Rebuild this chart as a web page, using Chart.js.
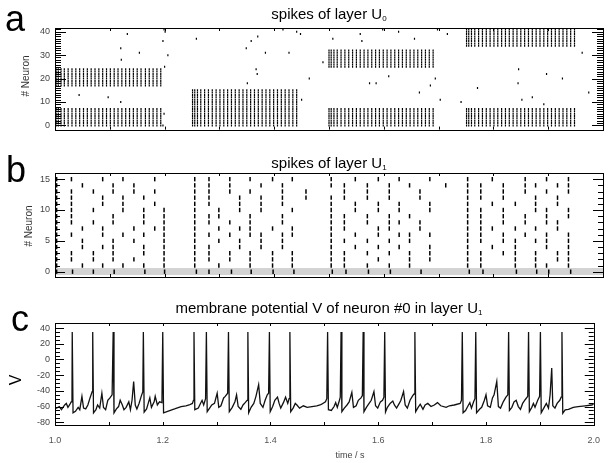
<!DOCTYPE html>
<html>
<head>
<meta charset="utf-8">
<script src="https://cdn.jsdelivr.net/npm/chart.js@4.4.1/dist/chart.umd.min.js"></script>
<style>
  body { margin: 0; background: #fff; font-family: "Liberation Sans", Arial, sans-serif; }
  #fig { position: relative; width: 610px; height: 463px; overflow: hidden; }
  canvas { position: absolute; left: 0; }
  .lbl { position: absolute; line-height: 1; white-space: nowrap; color: #000; }
  .ttl { left: 55px; width: 548px; text-align: center; font-size: 15px; }
  .ttl sub { font-size: 8px; vertical-align: -2px; }
  .letter { font-size: 36px; }
  .rot { transform: translate(-50%, -50%) rotate(-90deg); }
</style>
</head>
<body>
<div id="fig">
  <canvas id="chartA" width="610" height="140" style="top:0;width:610px;height:140px"></canvas>
  <canvas id="chartB" width="610" height="150" style="top:140px;width:610px;height:150px"></canvas>
  <canvas id="chartC" width="610" height="173" style="top:290px;width:610px;height:173px"></canvas>

  <div class="lbl letter" style="left:5px;top:1px">a</div>
  <div class="lbl letter" style="left:6px;top:152px">b</div>
  <div class="lbl letter" style="left:11px;top:301px">c</div>

  <div class="lbl ttl" style="top:6px">spikes of layer U<sub>0</sub></div>
  <div class="lbl ttl" style="top:155px">spikes of layer U<sub>1</sub></div>
  <div class="lbl ttl" style="top:300px">membrane potential V of neuron #0 in layer U<sub>1</sub></div>

  <div class="lbl rot" style="left:26px;top:76px;font-size:10px;color:#333"># Neuron</div>
  <div class="lbl rot" style="left:29px;top:226px;font-size:10px;color:#333"># Neuron</div>
  <div class="lbl rot" style="left:16px;top:380px;font-size:16px">V</div>
  <div class="lbl" style="left:350px;top:455px;transform:translate(-50%,-50%);font-size:9px;color:#444">time / s</div>
</div>

<script>
// time axis shared by all panels
const timeRange = [1.0, 2.0];
const timeTicks = [1.0, 1.2, 1.4, 1.6, 1.8, 2.0];

// ---- panel a: layer U0 ----
const u0Ticks = [0, 10, 20, 30, 40];
const u0GroupA = [0, 1, 2, 3, 4, 5, 6, 7];
const u0GroupB = [8, 9, 10, 11, 12, 13, 14, 15];
const u0GroupC = [17, 18, 19, 20, 21, 22, 23, 24];
const u0GroupD = [25, 26, 27, 28, 29, 30, 31, 32];
const u0GroupE = [34, 35, 36, 37, 38, 39, 40, 41];

// spike columns of each stimulus block
const u0Block1 = [1.002, 1.006, 1.011, 1.017, 1.024, 1.031, 1.038, 1.045, 1.052, 1.059, 1.066, 1.073, 1.080, 1.087, 1.094, 1.101, 1.108, 1.115, 1.122, 1.129, 1.136, 1.143, 1.150, 1.157, 1.165, 1.172, 1.179, 1.186, 1.193];
const u0Block2 = [1.251, 1.255, 1.260, 1.266, 1.273, 1.280, 1.287, 1.294, 1.301, 1.308, 1.315, 1.322, 1.329, 1.336, 1.343, 1.350, 1.357, 1.364, 1.371, 1.378, 1.385, 1.392, 1.399, 1.406, 1.413, 1.420, 1.427, 1.434, 1.441];
const u0Block3 = [1.500, 1.504, 1.509, 1.515, 1.522, 1.529, 1.536, 1.543, 1.550, 1.557, 1.564, 1.571, 1.578, 1.585, 1.592, 1.599, 1.606, 1.613, 1.620, 1.627, 1.634, 1.641, 1.648, 1.655, 1.662, 1.669, 1.676, 1.683, 1.690];
const u0Block4 = [1.751, 1.755, 1.760, 1.766, 1.773, 1.780, 1.787, 1.794, 1.801, 1.808, 1.815, 1.822, 1.829, 1.836, 1.843, 1.850, 1.857, 1.864, 1.871, 1.878, 1.885, 1.892, 1.899, 1.906, 1.913, 1.920, 1.927, 1.934, 1.941, 1.948];

// background spikes [time, neuron]
const u0Background = [
  [1.044, 13], [1.097, 12], [1.120, 10], [1.121, 28], [1.120, 33], [1.132, 39], [1.154, 31],
  [1.197, 36], [1.199, 41], [1.201, 40], [1.206, 30], [1.200, 25], [1.199, 5], [1.197, 0],
  [1.258, 37], [1.349, 33], [1.351, 18], [1.358, 36], [1.367, 24], [1.369, 22], [1.370, 38],
  [1.384, 31], [1.416, 41], [1.427, 31], [1.441, 40], [1.448, 39], [1.450, 11], [1.464, 20],
  [1.489, 27], [1.507, 37], [1.557, 39], [1.560, 36], [1.574, 18], [1.586, 18], [1.598, 41],
  [1.609, 21], [1.627, 40], [1.656, 37], [1.665, 14], [1.685, 17], [1.694, 20], [1.698, 41],
  [1.703, 11], [1.716, 39], [1.741, 10], [1.771, 16], [1.845, 18], [1.846, 24], [1.852, 11],
  [1.871, 12], [1.892, 9], [1.897, 22], [1.926, 20], [1.962, 31], [1.974, 14]
];

// ---- panel b: layer U1, spike times per neuron (index = neuron) ----
const u1Ticks = [0, 5, 10, 15];
const u1Spikes = [
  [1.003, 1.032, 1.070, 1.108, 1.164, 1.200, 1.258, 1.281, 1.322, 1.358, 1.398, 1.436, 1.506, 1.531, 1.572, 1.612, 1.668, 1.756, 1.781, 1.842, 1.879, 1.901, 1.941],
  [1.003, 1.050, 1.087, 1.124, 1.162, 1.199, 1.255, 1.299, 1.356, 1.397, 1.433, 1.504, 1.528, 1.570, 1.610, 1.647, 1.753, 1.777, 1.840, 1.877, 1.897, 1.937],
  [1.003, 1.030, 1.070, 1.106, 1.144, 1.199, 1.255, 1.281, 1.319, 1.356, 1.397, 1.433, 1.504, 1.528, 1.590, 1.647, 1.684, 1.753, 1.777, 1.840, 1.877, 1.917, 1.937],
  [1.003, 1.030, 1.070, 1.106, 1.162, 1.199, 1.255, 1.281, 1.319, 1.356, 1.397, 1.433, 1.504, 1.528, 1.570, 1.610, 1.647, 1.684, 1.753, 1.777, 1.818, 1.840, 1.877, 1.917, 1.937],
  [1.003, 1.050, 1.087, 1.106, 1.162, 1.199, 1.255, 1.281, 1.337, 1.376, 1.415, 1.504, 1.548, 1.590, 1.628, 1.684, 1.753, 1.798, 1.840, 1.897, 1.937],
  [1.003, 1.050, 1.106, 1.144, 1.199, 1.255, 1.299, 1.337, 1.376, 1.415, 1.504, 1.528, 1.570, 1.610, 1.647, 1.753, 1.777, 1.818, 1.840, 1.877, 1.897, 1.937],
  [1.003, 1.030, 1.087, 1.124, 1.162, 1.199, 1.255, 1.281, 1.319, 1.356, 1.376, 1.415, 1.433, 1.504, 1.548, 1.590, 1.628, 1.647, 1.684, 1.753, 1.777, 1.818, 1.858, 1.897, 1.937],
  [1.003, 1.050, 1.087, 1.144, 1.182, 1.199, 1.255, 1.299, 1.337, 1.356, 1.397, 1.433, 1.504, 1.528, 1.590, 1.610, 1.666, 1.753, 1.777, 1.798, 1.840, 1.877, 1.917],
  [1.003, 1.030, 1.070, 1.106, 1.162, 1.199, 1.255, 1.281, 1.319, 1.356, 1.415, 1.504, 1.528, 1.570, 1.610, 1.628, 1.666, 1.753, 1.777, 1.818, 1.858, 1.897, 1.917],
  [1.003, 1.030, 1.106, 1.162, 1.199, 1.255, 1.281, 1.299, 1.356, 1.415, 1.504, 1.528, 1.570, 1.610, 1.647, 1.753, 1.777, 1.818, 1.858, 1.897, 1.937],
  [1.003, 1.030, 1.070, 1.124, 1.162, 1.199, 1.255, 1.299, 1.337, 1.376, 1.433, 1.504, 1.548, 1.590, 1.628, 1.684, 1.753, 1.777, 1.818, 1.877, 1.897, 1.937],
  [1.003, 1.030, 1.087, 1.124, 1.182, 1.255, 1.281, 1.337, 1.376, 1.415, 1.504, 1.548, 1.590, 1.628, 1.684, 1.753, 1.798, 1.840, 1.877, 1.917],
  [1.003, 1.030, 1.087, 1.124, 1.162, 1.255, 1.281, 1.337, 1.376, 1.415, 1.458, 1.504, 1.528, 1.570, 1.610, 1.666, 1.753, 1.777, 1.818, 1.877, 1.917],
  [1.003, 1.030, 1.070, 1.106, 1.144, 1.182, 1.255, 1.281, 1.319, 1.356, 1.415, 1.458, 1.528, 1.570, 1.610, 1.666, 1.753, 1.777, 1.818, 1.858, 1.897, 1.937],
  [1.003, 1.050, 1.106, 1.144, 1.255, 1.281, 1.319, 1.376, 1.415, 1.504, 1.528, 1.570, 1.610, 1.647, 1.713, 1.753, 1.777, 1.818, 1.858, 1.877, 1.917, 1.937],
  [1.003, 1.030, 1.087, 1.124, 1.182, 1.255, 1.281, 1.319, 1.356, 1.397, 1.433, 1.504, 1.548, 1.590, 1.628, 1.684, 1.753, 1.798, 1.858, 1.897, 1.937]
];

// ---- panel c: membrane potential of neuron #0 in U1, [time, V] ----
const vTicks = [-80, -60, -40, -20, 0, 20, 40];
const vTrace = [
  [1.000, -62], [1.003, -62], [1.008, -60], [1.012, -64], [1.018, -58], [1.021, -56], [1.024, -61], [1.027, -58], [1.030, -54], [1.0315, -50],
  [1.032, 35], [1.0335, -68], [1.038, -66], [1.043, -61], [1.046, -64], [1.050, -47], [1.053, -62], [1.057, -63], [1.061, -58], [1.065, -49], [1.069, -41],
  [1.070, 35], [1.0715, -68], [1.076, -64], [1.079, -58], [1.083, -62], [1.087, -43], [1.090, -61], [1.094, -64], [1.098, -52], [1.102, -49], [1.106, -45],
  [1.108, 35], [1.1095, -68], [1.114, -63], [1.118, -60], [1.121, -52], [1.125, -58], [1.128, -64], [1.132, -61], [1.137, -54], [1.140, -64], [1.143, -52],
  [1.146, -28], [1.149, -58], [1.152, -63], [1.156, -56], [1.160, -47], [1.163, -41],
  [1.164, 35], [1.1655, -67], [1.170, -63], [1.173, -56], [1.176, -49], [1.179, -61], [1.184, -54], [1.186, -47], [1.190, -58], [1.194, -54], [1.1985, -55],
  [1.200, 35], [1.2015, -68], [1.209, -66], [1.222, -63], [1.234, -60], [1.243, -59],
  [1.249, -58], [1.255, -56], [1.257, -52],
  [1.258, 35], [1.2595, -64], [1.266, -62], [1.270, -56], [1.273, -52], [1.276, -58], [1.2795, -50],
  [1.281, 35], [1.2825, -66.5], [1.287, -62], [1.291, -58], [1.296, -56], [1.301, -43], [1.304, -61], [1.308, -59], [1.313, -49], [1.316, -47], [1.3205, -43],
  [1.322, 35], [1.3235, -66.5], [1.329, -61], [1.334, -54], [1.337, -45], [1.340, -60], [1.345, -63.5], [1.349, -58], [1.353, -55], [1.3565, -52],
  [1.358, 35], [1.3595, -68], [1.364, -61], [1.369, -56], [1.373, -47], [1.378, -32], [1.381, -56], [1.386, -61], [1.390, -52], [1.394, -45], [1.3965, -43],
  [1.398, 35], [1.3995, -66.5], [1.404, -60], [1.408, -52], [1.413, -48], [1.416, -56], [1.419, -62], [1.424, -55], [1.428, -48], [1.432, -56], [1.4345, -50],
  [1.436, 35], [1.4375, -66.5], [1.442, -62], [1.446, -56], [1.449, -58], [1.454, -62], [1.461, -59], [1.468, -61], [1.477, -60], [1.486, -59], [1.492, -58],
  [1.495, -57], [1.502, -54], [1.5045, -50],
  [1.506, 35], [1.5075, -64], [1.513, -65], [1.518, -60], [1.521, -55], [1.524, -61], [1.528, -52], [1.5295, -48],
  [1.531, 35], [1.5325, -66.5], [1.537, -62], [1.542, -58], [1.546, -54], [1.551, -42], [1.554, -61], [1.559, -59], [1.563, -52], [1.568, -49], [1.5705, -46],
  [1.572, 35], [1.5735, -66.5], [1.578, -61], [1.583, -56], [1.587, -52], [1.592, -41], [1.595, -59], [1.599, -62], [1.604, -54], [1.608, -52], [1.6105, -48],
  [1.612, 35], [1.6135, -67], [1.617, -61], [1.622, -56], [1.627, -53], [1.630, -58], [1.634, -62], [1.639, -56], [1.642, -52], [1.647, -41], [1.650, -58],
  [1.654, -62], [1.659, -52], [1.664, -46], [1.6665, -44],
  [1.668, 35], [1.6695, -66.5], [1.674, -61], [1.678, -57], [1.683, -63.5], [1.687, -58], [1.692, -56], [1.698, -60], [1.704, -58], [1.710, -55], [1.716, -59],
  [1.726, -61], [1.732, -59], [1.741, -58], [1.752, -56], [1.7545, -52],
  [1.756, 35], [1.7575, -68], [1.762, -65], [1.766, -60], [1.770, -55], [1.773, -62], [1.777, -54], [1.7795, -50],
  [1.781, 35], [1.7825, -68], [1.788, -63.5], [1.792, -61], [1.797, -52], [1.800, -45], [1.803, -59], [1.808, -61], [1.812, -49], [1.815, -45], [1.820, -28],
  [1.823, -60], [1.827, -62], [1.832, -54], [1.837, -48], [1.8405, -45],
  [1.842, 35], [1.8435, -65], [1.848, -61], [1.852, -54], [1.856, -52], [1.860, -60], [1.864, -63.5], [1.868, -56], [1.873, -51], [1.8775, -47],
  [1.879, 35], [1.8805, -66.5], [1.885, -61], [1.888, -56], [1.891, -61], [1.896, -52], [1.8995, -47],
  [1.901, 35], [1.9025, -68], [1.908, -61], [1.912, -56], [1.916, -62], [1.919, -45], [1.922, -11], [1.924, -59], [1.928, -62], [1.932, -56], [1.937, -52], [1.9395, -48],
  [1.941, 35], [1.9425, -68.5], [1.947, -64.3], [1.953, -63.5], [1.962, -61], [1.971, -60], [1.984, -59], [1.996, -58], [2.000, -57]
];

// ---------------------------------------------------------------
const FONT = "'Liberation Sans', Arial, sans-serif";

// inward ticks on all four sides + frame, optional grey band
function frameTicks(cfg) {
  return {
    id: "frameTicks",
    beforeDatasetsDraw(chart) {
      if (!cfg.band) return;
      const { ctx, chartArea: a, scales: { y } } = chart;
      const top = y.getPixelForValue(cfg.band[1]);
      const bot = y.getPixelForValue(cfg.band[0]);
      ctx.save();
      ctx.fillStyle = "#d3d3d3";
      ctx.fillRect(a.left, top, a.width, bot - top);
      ctx.restore();
    },
    afterDraw(chart) {
      const { ctx, chartArea: a, scales: { x, y } } = chart;
      ctx.save();
      ctx.strokeStyle = "#000";
      ctx.lineWidth = 1;
      ctx.beginPath();
      const ny = Math.round((cfg.yTo - cfg.yFrom) / cfg.yStep);
      for (let i = 0; i <= ny; i++) {
        const v = cfg.yFrom + i * cfg.yStep;
        const py = Math.round(y.getPixelForValue(v)) + 0.5;
        const len = Math.abs(v % cfg.yMajor) < 1e-6 ? cfg.majorLen : cfg.minorLen;
        ctx.moveTo(a.left, py); ctx.lineTo(a.left + len, py);
        ctx.moveTo(a.right, py); ctx.lineTo(a.right - len, py);
      }
      const nx = Math.round((timeRange[1] - timeRange[0]) / cfg.xStep);
      for (let i = 0; i <= nx; i++) {
        const px = Math.round(x.getPixelForValue(timeRange[0] + i * cfg.xStep)) + 0.5;
        ctx.moveTo(px, a.top); ctx.lineTo(px, a.top + cfg.xLen);
        ctx.moveTo(px, a.bottom); ctx.lineTo(px, a.bottom - cfg.xLen);
      }
      ctx.stroke();
      ctx.strokeRect(Math.round(a.left) + 0.5, Math.round(a.top) + 0.5, Math.round(a.width), Math.round(a.height));
      ctx.restore();
    },
  };
}

function yAxis(min, max, tickValues) {
  return {
    min: min,
    max: max,
    afterFit: (s) => { s.width = 55; },
    afterBuildTicks: (s) => { s.ticks = tickValues.map((v) => ({ value: v })); },
    grid: { display: false, drawTicks: false },
    border: { display: false },
    ticks: { padding: 5, color: "#444", font: { size: 9, family: FONT } },
  };
}

function baseOptions(padding, scales) {
  return {
    responsive: false,
    animation: false,
    events: [],
    layout: { padding: padding },
    plugins: { legend: { display: false }, tooltip: { enabled: false } },
    scales: scales,
  };
}

// panel a points
const u0Points = [];
[[u0Block1, u0GroupA.concat(u0GroupC)],
 [u0Block2, u0GroupA.concat(u0GroupB)],
 [u0Block3, u0GroupA.concat(u0GroupD)],
 [u0Block4, u0GroupA.concat(u0GroupE)]].forEach(([times, neurons]) => {
  neurons.forEach((n) => times.forEach((t) => u0Points.push({ x: t, y: n })));
});
u0Background.forEach(([t, n]) => u0Points.push({ x: t, y: n }));

new Chart(document.getElementById("chartA"), {
  type: "scatter",
  data: {
    datasets: [{
      data: u0Points,
      pointStyle: "line",
      pointRotation: 90,
      pointRadius: 1,
      pointBorderWidth: 1.2,
      pointBorderColor: "#000",
      pointBackgroundColor: "#000",
    }],
  },
  options: baseOptions(
    { top: 28, right: 7, bottom: 9, left: 0 },
    {
      x: { type: "linear", display: false, min: timeRange[0], max: timeRange[1] },
      y: yAxis(-1.8, 41.6, u0Ticks),
    }
  ),
  plugins: [frameTicks({ yFrom: 0, yTo: 41, yStep: 1, yMajor: 10, majorLen: 11, minorLen: 6, xStep: 0.1, xLen: 3 })],
});

// panel b points
const u1Points = [];
u1Spikes.forEach((times, n) => times.forEach((t) => u1Points.push({ x: t, y: n })));

new Chart(document.getElementById("chartB"), {
  type: "scatter",
  data: {
    datasets: [{
      data: u1Points,
      pointStyle: "line",
      pointRotation: 90,
      pointRadius: 2.2,
      pointBorderWidth: 1.5,
      pointBorderColor: "#000",
      pointBackgroundColor: "#000",
    }],
  },
  options: baseOptions(
    { top: 33, right: 7, bottom: 13, left: 0 },
    {
      x: { type: "linear", display: false, min: timeRange[0], max: timeRange[1] },
      y: yAxis(-0.86, 16.0, u1Ticks),
    }
  ),
  plugins: [frameTicks({ yFrom: 0, yTo: 15, yStep: 1, yMajor: 5, majorLen: 10, minorLen: 5, xStep: 0.1, xLen: 3, band: [-0.55, 0.6] })],
});

// panel c
new Chart(document.getElementById("chartC"), {
  type: "scatter",
  data: {
    datasets: [{
      data: vTrace.map(([t, v]) => ({ x: t, y: v })),
      showLine: true,
      pointRadius: 0,
      borderColor: "#111",
      borderWidth: 1.3,
      tension: 0,
    }],
  },
  options: baseOptions(
    { top: 33, right: 7, bottom: 0, left: 0 },
    {
      x: {
        type: "linear",
        min: timeRange[0],
        max: timeRange[1],
        afterFit: (s) => { s.height = 38; },
        afterBuildTicks: (s) => { s.ticks = timeTicks.map((v) => ({ value: v })); },
        grid: { display: false, drawTicks: false },
        border: { display: false },
        ticks: {
          padding: 10,
          maxRotation: 0,
          autoSkip: false,
          color: "#555",
          font: { size: 9, family: FONT },
          callback: (v) => Number(v).toFixed(1),
        },
      },
      y: yAxis(-83.5, 46.5, vTicks),
    }
  ),
  plugins: [frameTicks({ yFrom: -80, yTo: 40, yStep: 5, yMajor: 20, majorLen: 9, minorLen: 5, xStep: 0.1, xLen: 3 })],
});
</script>
</body>
</html>
